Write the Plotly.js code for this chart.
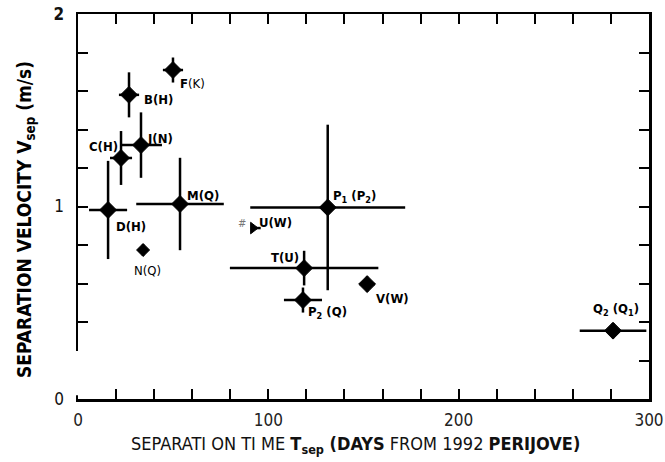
<!DOCTYPE html>
<html>
<head>
<meta charset="utf-8">
<script src="https://cdn.plot.ly/plotly-3.0.1.min.js"></script>
<style>html,body{margin:0;padding:0;background:#fff;}#chart{width:665px;height:462px;}</style>
</head>
<body>
<div id="chart"></div>
<script>
// ---- data ----
const labels = ['<b>F</b>(K)','<b>B(H)</b>','<b>J(N)</b>','<b>C(H)</b>','<b>D(H)</b>','<b>M(Q)</b>','N(Q)','<b>P<sub>1</sub> (P<sub>2</sub>)</b>','<b>U(W)</b>','<b>T(U)</b>','<b>P<sub>2</sub> (Q)</b>','<b>V(W)</b>','<b>Q<sub>2</sub> (Q<sub>1</sub>)</b>'];
const tsep = [49.9, 26.8, 33.1, 22.6, 15.8, 53.6, 34.2, 131.2, 92.0, 118.8, 118.2, 151.9, 281.1];
const vsep = [1.709, 1.580, 1.319, 1.252, 0.982, 1.013, 0.774, 0.995, 0.888, 0.680, 0.514, 0.597, 0.355];
const tErrPlus  = [5.3, 5.3, 11, 5.8, 10, 23, 2.5, 40.7, 4, 39, 10, 4, 17.5];
const tErrMinus = [5.3, 5.3, 11, 5.8, 10, 23, 2.5, 40.7, 0, 39, 10, 4, 17.5];
const vErr = [0.065, 0.117, 0.17, 0.14, 0.255, 0.24, 0.03, 0.43, 0, 0.09, 0.065, 0.04, 0.04];
const xTickVals = [0,20,40,60,80,100,120,140,160,180,200,220,240,260,280,300];
const xTickText = ['0','','','','','100','','','','','200','','','','','300'];
const yTickVals = [0,0.2,0.4,0.6,0.8,1,1.2,1.4,1.6,1.8,2];
const yTickText = ['0','','','','','1','','','','','<b>2</b>'];
const xTitle = 'SEPARATI ON TI ME <b>T<sub>sep</sub> (DAYS</b> FROM 1992 <b>PERIJOVE)</b>';
const yTitle = '<b>SEPARATION VELOCITY V<sub>sep</sub> (m/s)</b>';

// ---- styling (not data) ----
const symbols = tsep.map((_, i) => i === 8 ? 'triangle-right' : 'diamond');
const sizes = tsep.map((_, i) => i === 8 ? 10 : (i === 6 ? 10 : 13));
const labelShift = [[20,-13],[29,-5],[19,7],[-18,11],[23,-17],[23,9],[4,-20],[27,11],[22,6],[-19,11],[25,-12],[25,-14],[3,21]];

const FONT = '"Liberation Sans Narrow", "DejaVu Sans Condensed", "Arial Narrow", sans-serif';

const trace = {
  x: tsep, y: vsep, type: 'scatter', mode: 'markers', opacity: 1,
  marker: {symbol: symbols, size: sizes, color: '#000', opacity: 1, line: {color: '#000', width: 1}},
  error_x: {type: 'data', symmetric: false, array: tErrPlus, arrayminus: tErrMinus, color: '#000', thickness: 2.5, width: 0},
  error_y: {type: 'data', array: vErr, color: '#000', thickness: 2.5, width: 0},
  hoverinfo: 'none', showlegend: false
};

const annotations = labels.map((t, i) => ({
  x: tsep[i], y: vsep[i], xref: 'x', yref: 'y', text: t, showarrow: false,
  xshift: labelShift[i][0], yshift: labelShift[i][1],
  font: {family: FONT, size: 13, color: '#000'}
}));
annotations.push({x: tsep[8], y: vsep[8], xref: 'x', yref: 'y', text: '<i>#</i>', showarrow: false,
  xshift: -11, yshift: 5, font: {family: FONT, size: 11, color: '#777'}});
annotations.push({x: 0.5, y: -0.119, xref: 'paper', yref: 'paper', text: xTitle, showarrow: false,
  xanchor: 'center', yanchor: 'middle', xshift: -8,
  font: {family: FONT, size: 18, color: '#111'}});
annotations.push({x: -0.091, y: 0.465, xref: 'paper', yref: 'paper', text: yTitle, showarrow: false,
  textangle: -90, xanchor: 'center', yanchor: 'middle',
  font: {family: FONT, size: 19, color: '#000'}});

const layout = {
  width: 665, height: 462,
  margin: {l: 78, r: 16, t: 14, b: 63},
  paper_bgcolor: '#fff', plot_bgcolor: '#fff',
  font: {family: FONT, color: '#000'},
  xaxis: {
    range: [0, 300], tickmode: 'array', tickvals: xTickVals, ticktext: xTickText,
    ticks: 'inside', ticklen: 10, tickwidth: 2, tickcolor: '#000',
    showline: true, linecolor: '#000', linewidth: 2.5, mirror: 'ticks',
    showgrid: false, zeroline: false, ticklabelstandoff: 4,
    tickfont: {family: FONT, size: 17, color: '#222'}
  },
  yaxis: {
    range: [0, 2], tickmode: 'array', tickvals: yTickVals, ticktext: yTickText,
    ticks: 'inside', ticklen: 10, tickwidth: 2, tickcolor: '#000',
    showline: true, linecolor: '#000', linewidth: 2.5, mirror: 'ticks',
    showgrid: false, zeroline: false, ticklabelstandoff: 8,
    tickfont: {family: FONT, size: 17, color: '#111'}
  },
  shapes: [
    {type: 'rect', xref: 'paper', yref: 'y', x0: -0.01, x1: 0.028, y0: 0.02, y1: 0.25,
     fillcolor: '#fff', line: {width: 0}, layer: 'above'}
  ],
  annotations: annotations
};

Plotly.newPlot('chart', [trace], layout, {displayModeBar: false, staticPlot: true});
</script>
</body>
</html>
